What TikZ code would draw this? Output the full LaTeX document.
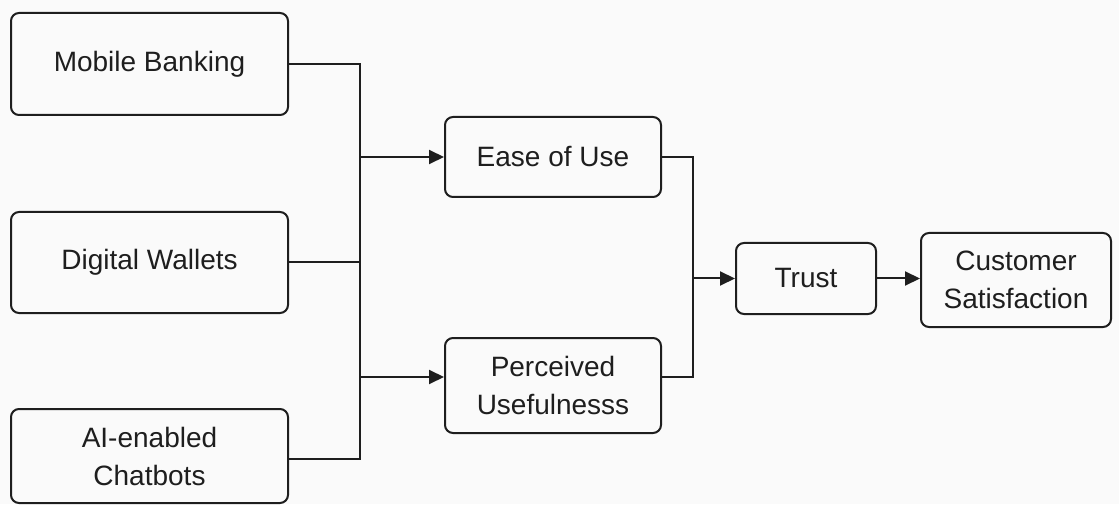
\documentclass[tikz,border=0pt]{standalone}
\usepackage{fontspec}
\setmainfont{Liberation Sans}
\usetikzlibrary{arrows.meta,positioning,calc}
\definecolor{ink}{HTML}{1E1E1E}
\definecolor{paper}{HTML}{FAFAFA}

\begin{document}
\begin{tikzpicture}[
  x=0.5pt,y=0.5pt,
  font=\fontsize{14}{19}\selectfont,
  factor/.style={draw=ink,line width=1pt,rounded corners=4pt,
                 inner sep=0pt,align=center,text=ink},
  link/.style={draw=ink,line width=1pt},
  arr/.style={-{Triangle[length=7.5pt,width=7pt]},draw=ink,line width=1pt},
]

% Canvas
\fill[paper] (0,0) rectangle (1119,504);
\useasboundingbox (0,0) rectangle (1119,504);

% Service channels
\node[factor,minimum width=138.5pt,minimum height=51pt] (mb) at (149.5,440) {Mobile Banking};
\node[factor,minimum width=138.5pt,minimum height=50.5pt] (dw) at (149.5,241.5) {Digital Wallets};
\node[factor,minimum width=138.5pt,minimum height=47pt] (ai) at (149.5,48) {AI-enabled\\Chatbots};

% Perceptions
\node[factor,minimum width=108pt,minimum height=40pt] (eu) at (553,347) {Ease of Use};
\node[factor,minimum width=108pt,minimum height=47.5pt] (pu) at (553,118.5) {Perceived\\Usefulnesss};

% Outcomes
\node[factor,minimum width=70pt,minimum height=35.5pt] (tr) at (806,225.5) {Trust};
\node[factor,minimum width=95pt,minimum height=47pt] (cs) at (1016,224) {Customer\\Satisfaction};

% Left bus
\coordinate (ltop) at (360,440);
\coordinate (lbot) at (360,45);
\coordinate (lpu) at (360,127);
\draw[link] (mb.east) -- (ltop) -- (lbot) -- (ai.east |- lbot);
\draw[link] (dw.east) -- (dw.east -| ltop);
\draw[arr] (ltop |- eu.west) -- (eu.west);
\draw[arr] (lpu) -- (lpu -| pu.west);

% Right bus
\coordinate (rtop) at (693,347);
\coordinate (rbot) at (693,127);
\draw[link] (eu.east) -- (rtop) -- (rbot) -- (rbot -| pu.east);
\draw[arr] (rtop |- tr.west) -- (tr.west);
\draw[arr] (tr.east) -- (tr.east -| cs.west);

\end{tikzpicture}
\end{document}
